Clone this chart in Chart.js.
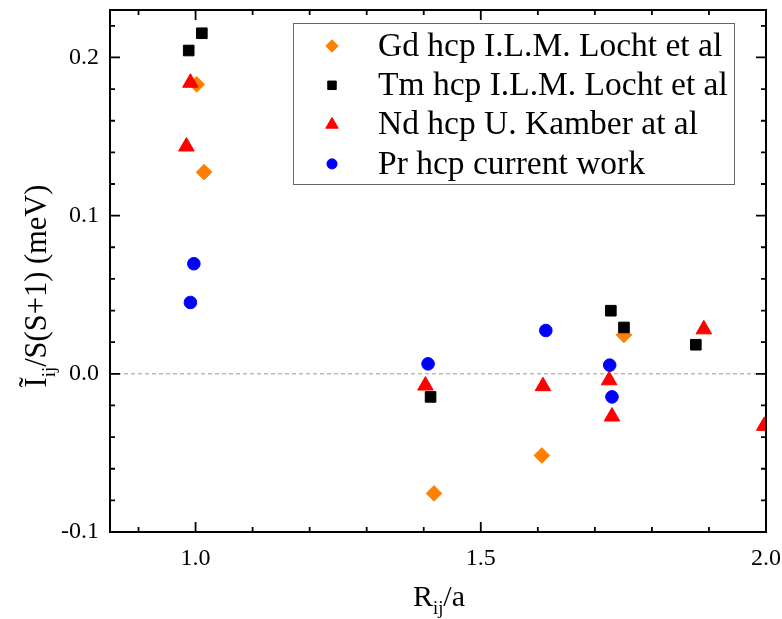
<!DOCTYPE html>
<html>
<head>
<meta charset="utf-8">
<script src="https://cdn.jsdelivr.net/npm/chart.js@4.4.1/dist/chart.umd.min.js"></script>
<style>
  html, body { margin: 0; padding: 0; background: #fff; }
  canvas { display: block; }
</style>
</head>
<body>
<canvas id="grafico" width="782" height="619"></canvas>
<script>
// datos (R_ij/a , I_ij/S(S+1) en meV)
const gdX = [1.002, 1.015, 1.418, 1.607, 1.751];
const gdY = [0.183, 0.1275, -0.0756, -0.0516, 0.0246];
const tmX = [0.988, 1.011, 1.412, 1.728, 1.751, 1.877];
const tmY = [0.2044, 0.2153, -0.0146, 0.0399, 0.0293, 0.0184];
const ndX = [0.984, 0.991, 1.403, 1.609, 1.725, 1.730, 1.891, 1.997];
const ndY = [0.1437, 0.184, -0.0074, -0.0078, -0.0041, -0.027, 0.0281, -0.0329];
const prX = [0.991, 0.997, 1.4076, 1.614, 1.726, 1.730];
const prY = [0.0451, 0.0696, 0.0063, 0.0274, 0.0055, -0.0146];

const nombres = ['Gd hcp I.L.M. Locht et al', 'Tm hcp I.L.M. Locht et al', 'Nd hcp U. Kamber at al', 'Pr hcp current work'];

// ticks
const xTicks = [1.0, 1.5, 2.0];
const xMenores = [0.9, 1.1, 1.2, 1.3, 1.4, 1.6, 1.7, 1.8, 1.9];
const yTicks = [-0.1, 0.0, 0.1, 0.2];
const yMenores = [-0.08, -0.06, -0.04, -0.02, 0.02, 0.04, 0.06, 0.08, 0.12, 0.14, 0.16, 0.18, 0.22];

const FUENTE = "'Liberation Serif', 'Times New Roman', serif";

const puntos = (xs, ys) => xs.map((x, i) => ({ x, y: ys[i] }));

// texto con subíndice centrado en (x, y) sobre la línea base
const textoSub = (ctx, partes, x, y, tam) => {
  const anchos = partes.map(p => {
    ctx.font = (p.sub ? tam * 0.62 : tam) + 'px ' + FUENTE;
    return ctx.measureText(p.t).width;
  });
  let cx = x - anchos.reduce((a, b) => a + b, 0) / 2;
  partes.forEach((p, i) => {
    ctx.font = (p.sub ? tam * 0.62 : tam) + 'px ' + FUENTE;
    ctx.fillText(p.t, cx, p.sub ? y + tam * 0.28 : y);
    cx += anchos[i];
  });
};

const marcoPlugin = {
  id: 'marco',
  beforeDatasetsDraw(chart) {
    const { ctx, chartArea: a, scales: { y } } = chart;
    const y0 = y.getPixelForValue(0);
    ctx.save();
    ctx.strokeStyle = '#9a9a9a';
    ctx.lineWidth = 1;
    ctx.setLineDash([4, 3]);
    ctx.beginPath();
    ctx.moveTo(a.left, y0);
    ctx.lineTo(a.right, y0);
    ctx.stroke();
    ctx.restore();
  },
  afterDraw(chart) {
    const { ctx, chartArea: a, scales: { x, y } } = chart;
    ctx.save();
    ctx.strokeStyle = '#000';
    ctx.lineWidth = 2;
    ctx.setLineDash([]);
    ctx.strokeRect(a.left, a.top, a.right - a.left, a.bottom - a.top);

    // ticks hacia dentro en los cuatro lados
    ctx.lineWidth = 1.8;
    ctx.beginPath();
    const tickX = (v, l) => {
      const px = x.getPixelForValue(v);
      ctx.moveTo(px, a.bottom); ctx.lineTo(px, a.bottom - l);
      ctx.moveTo(px, a.top); ctx.lineTo(px, a.top + l);
    };
    const tickY = (v, l) => {
      const py = y.getPixelForValue(v);
      ctx.moveTo(a.left, py); ctx.lineTo(a.left + l, py);
      ctx.moveTo(a.right, py); ctx.lineTo(a.right - l, py);
    };
    xTicks.forEach(v => tickX(v, 10));
    xMenores.forEach(v => tickX(v, 5));
    yTicks.forEach(v => tickY(v, 10));
    yMenores.forEach(v => tickY(v, 5));
    ctx.stroke();

    // leyenda
    const lx = 293, ly = 23, lw = 441, lh = 161;
    ctx.fillStyle = '#fff';
    ctx.fillRect(lx, ly, lw, lh);
    ctx.strokeStyle = '#666';
    ctx.lineWidth = 1;
    ctx.strokeRect(lx + 0.5, ly + 0.5, lw, lh);
    chart.data.datasets.forEach((ds, i) => {
      const cy = 46 + i * 39.3;
      ctx.fillStyle = ds.pointBackgroundColor;
      ctx.strokeStyle = ds.pointBorderColor;
      Chart.helpers.drawPoint(ctx, {
        pointStyle: ds.pointStyle,
        radius: ds.pointRadius * 0.8,
        rotation: 0,
        borderWidth: 1
      }, 332, cy);
      ctx.fillStyle = '#000';
      ctx.font = '33.5px ' + FUENTE;
      ctx.textAlign = 'left';
      ctx.textBaseline = 'middle';
      ctx.fillText(ds.label, 378, cy + 1);
    });

    // títulos de los ejes
    ctx.fillStyle = '#000';
    ctx.textAlign = 'left';
    ctx.textBaseline = 'alphabetic';
    textoSub(ctx, [{ t: 'R' }, { t: 'ij', sub: true }, { t: '/a' }], 439, 606, 30);
    ctx.translate(46, 286);
    ctx.rotate(-Math.PI / 2);
    textoSub(ctx, [{ t: 'Ĩ' }, { t: 'ij', sub: true }, { t: '/S(S+1) (meV)' }], 0, 0, 30.5);
    ctx.restore();
  }
};

const serie = (label, datos, color, estilo, radio, orden) => ({
  label,
  data: datos,
  pointStyle: estilo,
  pointRadius: radio,
  pointHoverRadius: radio,
  pointBackgroundColor: color,
  pointBorderColor: color,
  pointBorderWidth: 1,
  showLine: false,
  order: orden
});

new Chart(document.getElementById('grafico').getContext('2d'), {
  type: 'scatter',
  data: {
    datasets: [
      serie(nombres[0], puntos(gdX, gdY), '#ff8000', 'rectRot', 7.8, 4),
      serie(nombres[1], puntos(tmX, tmY), '#000000', 'rect', 7.5, 3),
      serie(nombres[2], puntos(ndX, ndY), '#ff0000', 'triangle', 9, 2),
      serie(nombres[3], puntos(prX, prY), '#0000ff', 'circle', 6.3, 1)
    ]
  },
  options: {
    responsive: false,
    animation: false,
    layout: { padding: { top: 5, right: 16, left: 0, bottom: 0 } },
    plugins: {
      legend: { display: false },
      tooltip: { enabled: false }
    },
    scales: {
      x: {
        type: 'linear',
        min: 0.85,
        max: 2.0,
        afterBuildTicks: s => { s.ticks = xTicks.map(v => ({ value: v })); },
        afterFit: s => { s.height = 87; s.paddingLeft = 0; s.paddingRight = 0; },
        grid: { display: false, drawTicks: false },
        border: { display: false },
        ticks: {
          padding: 12,
          color: '#000',
          font: { family: FUENTE, size: 24 },
          callback: v => v.toFixed(1)
        }
      },
      y: {
        type: 'linear',
        min: -0.1,
        max: 0.23,
        afterBuildTicks: s => { s.ticks = yTicks.map(v => ({ value: v })); },
        afterFit: s => { s.width = 110; s.paddingTop = 0; s.paddingBottom = 0; },
        grid: { display: false, drawTicks: false },
        border: { display: false },
        ticks: {
          padding: 11,
          color: '#000',
          font: { family: FUENTE, size: 24 },
          callback: v => v.toFixed(1)
        }
      }
    }
  },
  plugins: [marcoPlugin]
});
</script>
</body>
</html>
